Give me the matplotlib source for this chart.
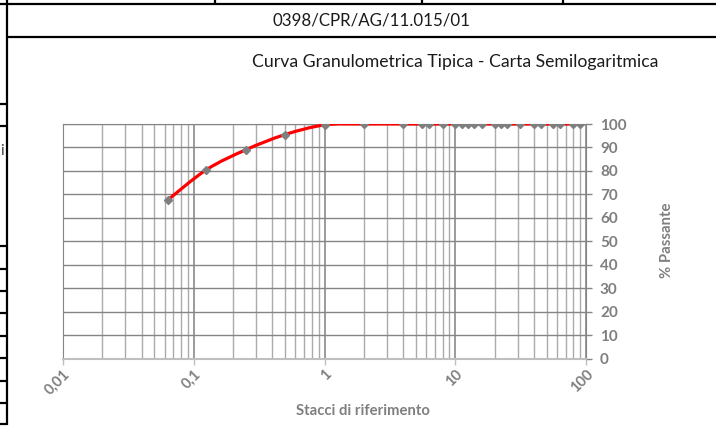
import numpy as np
import matplotlib
matplotlib.use('Agg')
import matplotlib.pyplot as plt
from matplotlib.lines import Line2D
from matplotlib.path import Path
from matplotlib.patches import PathPatch
from matplotlib.ticker import FixedLocator, FixedFormatter, NullFormatter

plt.rcParams['font.family'] = ['Lato', 'DejaVu Sans']

# dati
stacci = [0.063, 0.125, 0.25, 0.5, 1, 2, 4, 5.6, 6.3, 8, 10, 11.2, 12.5, 14, 16,
          20, 22.4, 25, 31.5, 40, 45, 56, 63, 80, 90]
passante = [67.5, 80.5, 89, 95.5, 99.6, 100, 100, 100, 100, 100, 100, 100, 100, 100, 100,
            100, 100, 100, 100, 100, 100, 100, 100, 100, 100]
x_tick_val = [0.01, 0.1, 1, 10, 100]
x_tick_lab = ['0,01', '0,1', '1', '10', '100']
y_tick_val = [0, 10, 20, 30, 40, 50, 60, 70, 80, 90, 100]

codice = '0398/CPR/AG/11.015/01'
titolo = 'Curva Granulometrica Tipica - Carta Semilogaritmica'

W, H = 716, 442
fig = plt.figure(figsize=(W / 100, H / 100), dpi=100)


def px(x, y):
    return x / W, 1 - y / H


def riga(x0, y0, x1, y1, lw=1.6):
    a = px(x0, y0)
    b = px(x1, y1)
    fig.add_artist(Line2D([a[0], b[0]], [a[1], b[1]], color='black', lw=lw,
                          transform=fig.transFigure, solid_capstyle='butt'))


# cornice tabella
riga(0, 4, W, 4)
for xx in [215, 422, 563]:
    riga(xx, 0, xx, 4)
riga(7, 0, 7, 425)
riga(7, 36.5, W, 36.5)
for yy in [104, 126, 246, 269, 291, 313, 336, 358, 381, 403, 424]:
    riga(0, yy, 7, yy)

fig.text(*px(371, 20), codice, ha='center', va='center', fontsize=12.2, color='#1a1a1a')
fig.text(*px(455, 62), titolo, ha='center', va='center', fontsize=12.7, color='#1a1a1a')
fig.text(*px(1.5, 151), 'i', ha='center', va='center', fontsize=11, color='#404040')

l, r, t, b = 63, 586, 124, 358.5
ax = fig.add_axes([l / W, 1 - b / H, (r - l) / W, (b - t) / H])
ax.set_xscale('log')
ax.set_xlim(0.01, 100)
ax.set_ylim(0, 100)

# griglia
minori = [m * 10.0 ** e for e in range(-2, 2) for m in range(2, 10)]
ax.xaxis.set_major_locator(FixedLocator(x_tick_val))
ax.xaxis.set_major_formatter(FixedFormatter(x_tick_lab))
ax.xaxis.set_minor_locator(FixedLocator(minori))
ax.xaxis.set_minor_formatter(NullFormatter())
ax.yaxis.set_major_locator(FixedLocator(y_tick_val))
ax.grid(True, which='major', axis='x', color='#808080', lw=1.1)
ax.grid(True, which='minor', axis='x', color='#ababab', lw=1.0)
ax.grid(True, which='major', axis='y', color='#858585', lw=1.0)
ax.set_axisbelow(True)

for s in ['left', 'top', 'right']:
    ax.spines[s].set_color('#858585')
    ax.spines[s].set_linewidth(0.8)
ax.spines['bottom'].set_color('#bfbfbf')
ax.spines['bottom'].set_linewidth(1.5)

grigio = '#7f7f7f'
ax.tick_params(axis='x', which='major', direction='out', length=4, width=1, color='#bfbfbf',
               labelsize=10.5, labelcolor=grigio, pad=2)
ax.tick_params(axis='x', which='minor', length=0)
ax.tick_params(axis='y', which='major', direction='out', length=4, width=1, color='#858585',
               left=False, right=True, labelleft=False, labelright=True,
               labelsize=11, labelcolor=grigio, pad=6)
for lab in ax.get_xticklabels():
    lab.set_rotation(45)
    lab.set_ha('right')
    lab.set_va('top')
    lab.set_rotation_mode('anchor')
    lab.set_fontweight('bold')
for lab in ax.get_yticklabels():
    lab.set_fontweight('bold')

# curva levigata (Bezier tipo Excel) in spazio log
lx = np.log10(stacci)
py = np.array(passante, dtype=float)
pts = np.column_stack([lx, py])
verts = [pts[0]]
codes = [Path.MOVETO]
n = len(pts)
for i in range(n - 1):
    p0 = pts[max(i - 1, 0)]
    p1 = pts[i]
    p2 = pts[i + 1]
    p3 = pts[min(i + 2, n - 1)]
    c1 = p1 + (p2 - p0) / 6
    c2 = p2 - (p3 - p1) / 6
    verts += [c1, c2, p2]
    codes += [Path.CURVE4] * 3
verts = np.array(verts)
verts[:, 0] = 10 ** verts[:, 0]
ax.add_patch(PathPatch(Path(verts, codes), facecolor='none', edgecolor='red', lw=2.3,
                       zorder=3, capstyle='round'))
ax.plot(stacci, passante, ls='none', marker='D', ms=4.5, color=grigio, zorder=4)

fig.text(*px(363, 411), 'Stacci di riferimento', ha='center', va='center',
         fontsize=10.7, fontweight='bold', color=grigio)
fig.text(*px(667, 240), '% Passante', ha='center', va='center', rotation=90,
         fontsize=10.7, fontweight='bold', color=grigio)

fig.savefig('out.png', dpi=100)
